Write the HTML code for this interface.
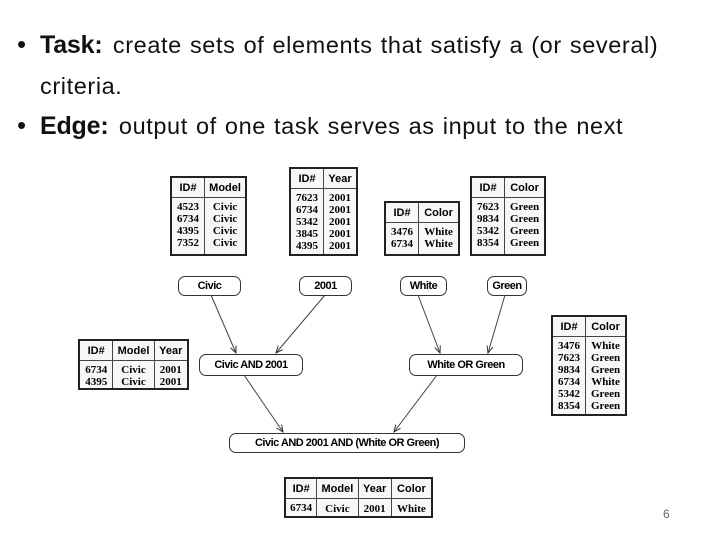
<!DOCTYPE html><html><head><style>
body{margin:0;width:720px;height:540px;background:#fff;position:relative;overflow:hidden;font-family:"Liberation Sans",sans-serif}
.t{position:absolute;color:#111;white-space:nowrap}
.s{font-size:23.5px;letter-spacing:0.6px;word-spacing:1px}
.k{font-size:25px;font-weight:bold;letter-spacing:-0.2px;margin-right:6px}
.bu{position:absolute;left:17px;font-size:26px}
table{position:absolute;border-collapse:collapse;border:2px solid #222;font-family:"Liberation Serif",serif;font-weight:bold;font-size:11px;line-height:12px;background:#f7f7f7}
th{font-family:"Liberation Sans",sans-serif;font-size:11px;border-bottom:1px solid #444;border-right:1px solid #444;padding:3px 4px;height:13px}
td{border-right:1px solid #444;padding:3px 5px 0;vertical-align:top;text-align:center}
th:last-child,td:last-child{border-right:none}
.p{position:absolute;border:1px solid #333;border-radius:7px;background:#fff;font-weight:bold;font-size:11px;text-align:center;line-height:18px;letter-spacing:-0.5px}
</style></head><body>
<div class="t bu" style="top:29px">•</div>
<div class="t" style="left:40px;top:31px"><span class="k">Task:</span> <span class="s">create sets of elements that satisfy a (or several)</span></div>
<div class="t s" style="left:40px;top:73px">criteria.</div>
<div class="t bu" style="top:110px">•</div>
<div class="t" style="left:40px;top:112px"><span class="k">Edge:</span> <span class="s">output of one task serves as input to the next</span></div>
<div class="t" style="left:663px;top:507px;font-size:12px;color:#666">6</div>

<table style="left:170px;top:176px;width:77px;height:80px"><tr><th>ID#</th><th>Model</th></tr><tr><td>4523<br>6734<br>4395<br>7352</td><td>Civic<br>Civic<br>Civic<br>Civic</td></tr></table>
<table style="left:289px;top:167px;width:69px;height:89px"><tr><th>ID#</th><th>Year</th></tr><tr><td>7623<br>6734<br>5342<br>3845<br>4395</td><td>2001<br>2001<br>2001<br>2001<br>2001</td></tr></table>
<table style="left:384px;top:201px;width:76px;height:55px"><tr><th>ID#</th><th>Color</th></tr><tr><td>3476<br>6734</td><td>White<br>White</td></tr></table>
<table style="left:470px;top:176px;width:76px;height:80px"><tr><th>ID#</th><th>Color</th></tr><tr><td>7623<br>9834<br>5342<br>8354</td><td>Green<br>Green<br>Green<br>Green</td></tr></table>
<table style="left:78px;top:339px;width:111px;height:49px"><tr><th>ID#</th><th>Model</th><th>Year</th></tr><tr><td>6734<br>4395</td><td>Civic<br>Civic</td><td>2001<br>2001</td></tr></table>
<table style="left:551px;top:315px;width:76px;height:101px"><tr><th>ID#</th><th>Color</th></tr><tr><td>3476<br>7623<br>9834<br>6734<br>5342<br>8354</td><td>White<br>Green<br>Green<br>White<br>Green<br>Green</td></tr></table>
<table style="left:284px;top:477px;width:149px;height:41px"><tr><th>ID#</th><th>Model</th><th>Year</th><th>Color</th></tr><tr><td style="vertical-align:middle;padding:0 4px">6734</td><td style="vertical-align:middle">Civic</td><td style="vertical-align:middle">2001</td><td style="vertical-align:middle">White</td></tr></table>

<svg style="position:absolute;left:0;top:0" width="720" height="540">
<defs><marker id="a" markerWidth="8" markerHeight="8" refX="7" refY="4" orient="auto"><path d="M0,1L7,4L0,7" fill="none" stroke="#333"/></marker></defs>
<g stroke="#444" stroke-width="1" marker-end="url(#a)">
<line x1="211" y1="295" x2="236" y2="353"/><line x1="325" y1="295" x2="276" y2="353"/>
<line x1="418" y1="295" x2="440" y2="353"/><line x1="505" y1="295" x2="488" y2="353"/>
<line x1="244" y1="375" x2="283" y2="432"/><line x1="437" y1="375" x2="394" y2="432"/>
</g></svg>
<div class="p" style="left:178px;top:276px;width:61px">Civic</div>
<div class="p" style="left:299px;top:276px;width:51px">2001</div>
<div class="p" style="left:400px;top:276px;width:45px">White</div>
<div class="p" style="left:487px;top:276px;width:38px">Green</div>
<div class="p" style="left:199px;top:354px;width:102px;line-height:20px">Civic AND 2001</div>
<div class="p" style="left:409px;top:354px;width:112px;line-height:20px">White OR Green</div>
<div class="p" style="left:229px;top:433px;width:234px">Civic AND 2001 AND (White OR Green)</div>
</body></html>
